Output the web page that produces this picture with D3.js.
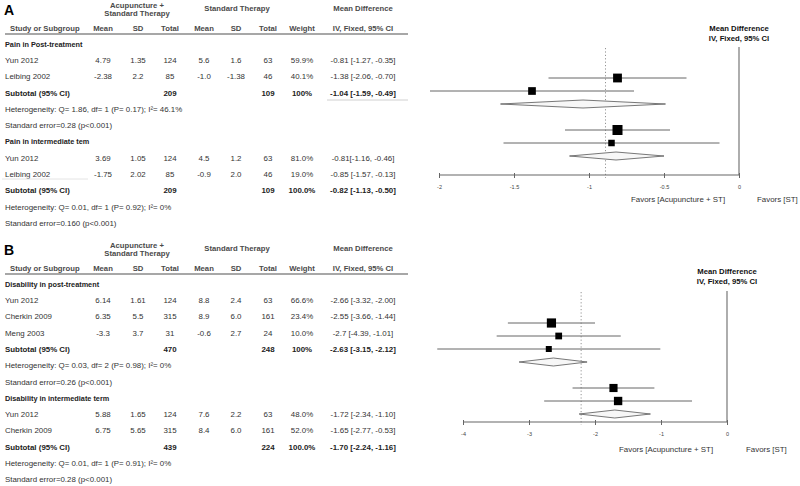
<!DOCTYPE html>
<html><head><meta charset="utf-8">
<script src="https://cdn.jsdelivr.net/npm/d3@7"></script>
<style>
html,body{margin:0;padding:0;background:#fff;}
svg{display:block;font-family:"Liberation Sans",Arial,Helvetica,sans-serif;}
</style></head>
<body>
<svg id="chart" width="800" height="486"></svg>
<script>
// ---------------- Panel A data ----------------
const aGroups = ["Pain in Post-treatment", "Pain in intermediate tem"];
const aStudy = ["Yun 2012", "Leibing 2002", "Yun 2012", "Leibing 2002"];
const aGroupOf = [0, 0, 1, 1];
const aExpMean = ["4.79", "-2.38", "3.69", "-1.75"];
const aExpSD = ["1.35", "2.2", "1.05", "2.02"];
const aExpN = ["124", "85", "124", "85"];
const aCtlMean = ["5.6", "-1.0", "4.5", "-0.9"];
const aCtlSD = ["1.6", "-1.38", "1.2", "2.0"];
const aCtlN = ["63", "46", "63", "46"];
const aWeight = [59.9, 40.1, 81.0, 19.0];
const aWeightText = ["59.9%", "40.1%", "81.0%", "19.0%"];
const aMD = [-0.81, -1.38, -0.81, -0.85];
const aLo = [-1.27, -2.06, -1.16, -1.57];
const aHi = [-0.35, -0.70, -0.46, -0.13];
const aMDText = ["-0.81 [-1.27, -0.35]", "-1.38 [-2.06, -0.70]", "-0.81[-1.16, -0.46]", "-0.85 [-1.57, -0.13]"];
const aSubExpN = ["209", "209"];
const aSubCtlN = ["109", "109"];
const aSubWeight = ["100%", "100.0%"];
const aSubMD = [-1.04, -0.82];
const aSubLo = [-1.59, -1.13];
const aSubHi = [-0.49, -0.50];
const aSubText = ["-1.04 [-1.59, -0.49]", "-0.82 [-1.13, -0.50]"];
const aHet = ["Heterogeneity: Q= 1.86, df= 1 (P= 0.17); I\u00B2= 46.1%", "Heterogeneity: Q= 0.01, df= 1 (P= 0.92); I\u00B2= 0%"];
const aSE = ["Standard error=0.28 (p<0.001)", "Standard error=0.160 (p<0.001)"];
const aTicks = [-2, -1.5, -1, -0.5, 0];
const aRef = -0.89;

// ---------------- Panel B data ----------------
const bGroups = ["Disability in post-treatment", "Disability in intermediate term"];
const bStudy = ["Yun 2012", "Cherkin 2009", "Meng 2003", "Yun 2012", "Cherkin 2009"];
const bGroupOf = [0, 0, 0, 1, 1];
const bExpMean = ["6.14", "6.35", "-3.3", "5.88", "6.75"];
const bExpSD = ["1.61", "5.5", "3.7", "1.65", "5.65"];
const bExpN = ["124", "315", "31", "124", "315"];
const bCtlMean = ["8.8", "8.9", "-0.6", "7.6", "8.4"];
const bCtlSD = ["2.4", "6.0", "2.7", "2.2", "6.0"];
const bCtlN = ["63", "161", "24", "63", "161"];
const bWeight = [66.6, 23.4, 10.0, 48.0, 52.0];
const bWeightText = ["66.6%", "23.4%", "10.0%", "48.0%", "52.0%"];
const bMD = [-2.66, -2.55, -2.70, -1.72, -1.65];
const bLo = [-3.32, -3.49, -4.39, -2.34, -2.77];
const bHi = [-2.00, -1.61, -1.01, -1.10, -0.53];
const bMDText = ["-2.66 [-3.32, -2.00]", "-2.55 [-3.66, -1.44]", "-2.7 [-4.39, -1.01]", "-1.72 [-2.34, -1.10]", "-1.65 [-2.77, -0.53]"];
const bSubExpN = ["470", "439"];
const bSubCtlN = ["248", "224"];
const bSubWeight = ["100%", "100.0%"];
const bSubMD = [-2.63, -1.70];
const bSubLo = [-3.15, -2.24];
const bSubHi = [-2.12, -1.16];
const bSubText = ["-2.63 [-3.15, -2.12]", "-1.70 [-2.24, -1.16]"];
const bHet = ["Heterogeneity: Q= 0.03, df= 2 (P= 0.98); I\u00B2= 0%", "Heterogeneity: Q= 0.01, df= 1 (P= 0.91); I\u00B2= 0%"];
const bSE = ["Standard error=0.26 (p<0.001)", "Standard error=0.28 (p<0.001)"];
const bTicks = [-4, -3, -2, -1, 0];
const bRef = -2.21;

const colHeaders = ["Mean", "SD", "Total", "Mean", "SD", "Total", "Weight", "IV, Fixed, 95% CI"];

// ---------------- drawing ----------------
const svg = d3.select("#chart");
const FS = 7.9;
const TXT = "#333";
const HDR = "#4a4a4a";
const colX = [103, 138, 170, 204, 236, 268, 302, 363];

function text(g, x, y, s, opt = {}) {
  return g.append("text").attr("x", x).attr("y", y).attr("dy", "0.35em")
    .attr("font-size", opt.fs || FS)
    .attr("font-weight", opt.bold ? "bold" : "normal")
    .attr("fill", opt.fill || TXT)
    .attr("text-anchor", opt.anchor || "start")
    .text(s);
}

function drawPanel(p) {
  const g = svg.append("g");
  const top = p.top;
  text(g, 4, top + 10, p.letter, {fs: 14, bold: true, fill: "#000"});
  text(g, 137, top + 5, "Acupuncture +", {bold: true, fill: HDR, anchor: "middle", fs: 7.7});
  text(g, 137, top + 13.5, "Standard Therapy", {bold: true, fill: HDR, anchor: "middle", fs: 7.7});
  text(g, 237, top + 8, "Standard Therapy", {bold: true, fill: HDR, anchor: "middle", fs: 7.7});
  text(g, 363, top + 8, "Mean Difference", {bold: true, fill: HDR, anchor: "middle", fs: 7.7});
  text(g, 10, top + 28, "Study or Subgroup", {bold: true, fill: HDR, fs: 7.7});
  colHeaders.forEach((h, i) => text(g, colX[i], top + 28, h, {bold: true, fill: HDR, anchor: "middle", fs: 7.7}));
  g.append("line").attr("x1", 5).attr("x2", 408).attr("y1", top + 34).attr("y2", top + 34)
    .attr("stroke", "#8a8a8a").attr("stroke-width", 1.3);

  let r = 0;
  const rowY = i => top + 44 + i * 16.3;
  p.groups.forEach((gName, gi) => {
    text(g, 5, rowY(r), gName, {bold: true, fs: 7.3, fill: "#222"}); r++;
    p.study.forEach((s, i) => {
      if (p.groupOf[i] !== gi) return;
      const y = rowY(r);
      text(g, 5, y, s);
      const vals = [p.expMean[i], p.expSD[i], p.expN[i], p.ctlMean[i], p.ctlSD[i], p.ctlN[i], p.weightText[i], p.mdText[i]];
      vals.forEach((v, k) => text(g, colX[k], y, v, {anchor: "middle"}));
      r++;
    });
    const ys = rowY(r);
    text(g, 5, ys, "Subtotal (95% CI)", {bold: true, fill: "#222"});
    text(g, colX[2], ys, p.subExpN[gi], {bold: true, anchor: "middle", fill: "#222"});
    text(g, colX[5], ys, p.subCtlN[gi], {bold: true, anchor: "middle", fill: "#222"});
    text(g, colX[6], ys, p.subWeight[gi], {bold: true, anchor: "middle", fill: "#222"});
    text(g, colX[7], ys, p.subText[gi], {bold: true, anchor: "middle", fill: "#222"});
    r++;
    text(g, 5, rowY(r), p.het[gi]); r++;
    text(g, 5, rowY(r), p.se[gi]); r++;
  });
  (p.extraLines || []).forEach(l => {
    g.append("line").attr("x1", l[0]).attr("x2", l[1]).attr("y1", top + l[2]).attr("y2", top + l[2])
      .attr("stroke", l[3]).attr("stroke-width", 1);
  });

  const x = d3.scaleLinear().domain(p.domain).range(p.range);
  const axisY = top + p.axisY;
  const lineTop = top + p.lineTop;
  const size = d3.scaleLinear().domain([10, 81]).range([6, 10]).clamp(true);

  const items = [];
  p.groups.forEach((gName, gi) => {
    if (gi > 0) items.push({type: "gap", key: "gap" + gi});
    p.study.forEach((s, i) => {
      if (p.groupOf[i] === gi) items.push({type: "study", key: "s" + i, md: p.md[i], lo: p.lo[i], hi: p.hi[i], w: p.weight[i]});
    });
    items.push({type: "sub", key: "d" + gi, md: p.subMD[gi], lo: p.subLo[gi], hi: p.subHi[gi]});
  });
  const y = d3.scalePoint().domain(items.map(d => d.key))
    .range([top + p.plotY0, top + p.plotY0 + (items.length - 1) * 13]);

  text(g, x(0), top + p.hdrY, "Mean Difference", {bold: true, fill: "#111", anchor: "middle", fs: 7.7});
  text(g, x(0), top + p.hdrY + 10, "IV, Fixed, 95% CI", {bold: true, fill: "#111", anchor: "middle", fs: 7.7});

  g.append("line").attr("x1", x(0)).attr("x2", x(0)).attr("y1", lineTop).attr("y2", axisY)
    .attr("stroke", "#777").attr("stroke-width", 1.2);
  g.append("line").attr("x1", x(p.ref)).attr("x2", x(p.ref)).attr("y1", lineTop + 1).attr("y2", axisY + 3)
    .attr("stroke", "#888").attr("stroke-width", 0.9).attr("stroke-dasharray", "1.2,2.2");

  const axis = d3.axisBottom(x).tickValues(p.ticks).tickSize(3).tickFormat(d => String(d));
  const ag = g.append("g").attr("transform", `translate(0,${axisY})`).call(axis);
  ag.select(".domain").attr("stroke", "#666").attr("stroke-width", 1.2).attr("d", `M${p.range[0]},0H${p.range[1]}`);
  ag.selectAll(".tick line").attr("stroke", "#666").attr("y1", -2).attr("y2", 3);
  ag.selectAll(".tick text").attr("font-size", 5.5).attr("fill", "#444").attr("y", 10)
    .attr("font-family", "Liberation Sans, Arial, sans-serif");

  const studies = items.filter(d => d.type === "study");
  g.selectAll(".ci").data(studies).join("line")
    .attr("x1", d => x(d.lo)).attr("x2", d => x(d.hi))
    .attr("y1", d => y(d.key)).attr("y2", d => y(d.key))
    .attr("stroke", "#666").attr("stroke-width", 1);
  g.selectAll(".sq").data(studies).join("rect")
    .attr("x", d => x(d.md) - size(d.w) / 2).attr("y", d => y(d.key) - size(d.w) / 2)
    .attr("width", d => size(d.w)).attr("height", d => size(d.w))
    .attr("fill", "#000");
  const subs = items.filter(d => d.type === "sub");
  g.selectAll(".dia").data(subs).join("path")
    .attr("d", d => {
      const yy = y(d.key);
      return `M${x(d.lo)},${yy}L${x(d.md)},${yy - 4}L${x(d.hi)},${yy}L${x(d.md)},${yy + 4}Z`;
    })
    .attr("fill", "#f7f7f7").attr("stroke", "#555").attr("stroke-width", 0.8);

  text(g, p.favX[0], top + p.favY, "Favors [Acupuncture + ST]", {fill: "#333"});
  text(g, p.favX[1], top + p.favY, "Favors [ST]", {fill: "#333"});
}

drawPanel({
  letter: "A", top: 0,
  groups: aGroups, study: aStudy, groupOf: aGroupOf,
  expMean: aExpMean, expSD: aExpSD, expN: aExpN,
  ctlMean: aCtlMean, ctlSD: aCtlSD, ctlN: aCtlN,
  weight: aWeight, weightText: aWeightText,
  md: aMD, lo: aLo, hi: aHi, mdText: aMDText,
  subExpN: aSubExpN, subCtlN: aSubCtlN, subWeight: aSubWeight,
  subMD: aSubMD, subLo: aSubLo, subHi: aSubHi, subText: aSubText,
  het: aHet, se: aSE, ticks: aTicks, ref: aRef,
  domain: [-2, 0], range: [439, 739],
  axisY: 175, lineTop: 47, plotY0: 78, hdrY: 28, favY: 199, favX: [631, 757],
  extraLines: [[327, 408, 100, "#d0d0d0"], [2, 88, 179, "#e4e4e4"]]
});

drawPanel({
  letter: "B", top: 240,
  groups: bGroups, study: bStudy, groupOf: bGroupOf,
  expMean: bExpMean, expSD: bExpSD, expN: bExpN,
  ctlMean: bCtlMean, ctlSD: bCtlSD, ctlN: bCtlN,
  weight: bWeight, weightText: bWeightText,
  md: bMD, lo: bLo, hi: bHi, mdText: bMDText,
  subExpN: bSubExpN, subCtlN: bSubCtlN, subWeight: bSubWeight,
  subMD: bSubMD, subLo: bSubLo, subHi: bSubHi, subText: bSubText,
  het: bHet, se: bSE, ticks: bTicks, ref: bRef,
  domain: [-4, 0], range: [463, 727],
  axisY: 182, lineTop: 51, plotY0: 83, hdrY: 31, favY: 209, favX: [619, 746],
  extraLines: []
});
</script>
</body></html>
